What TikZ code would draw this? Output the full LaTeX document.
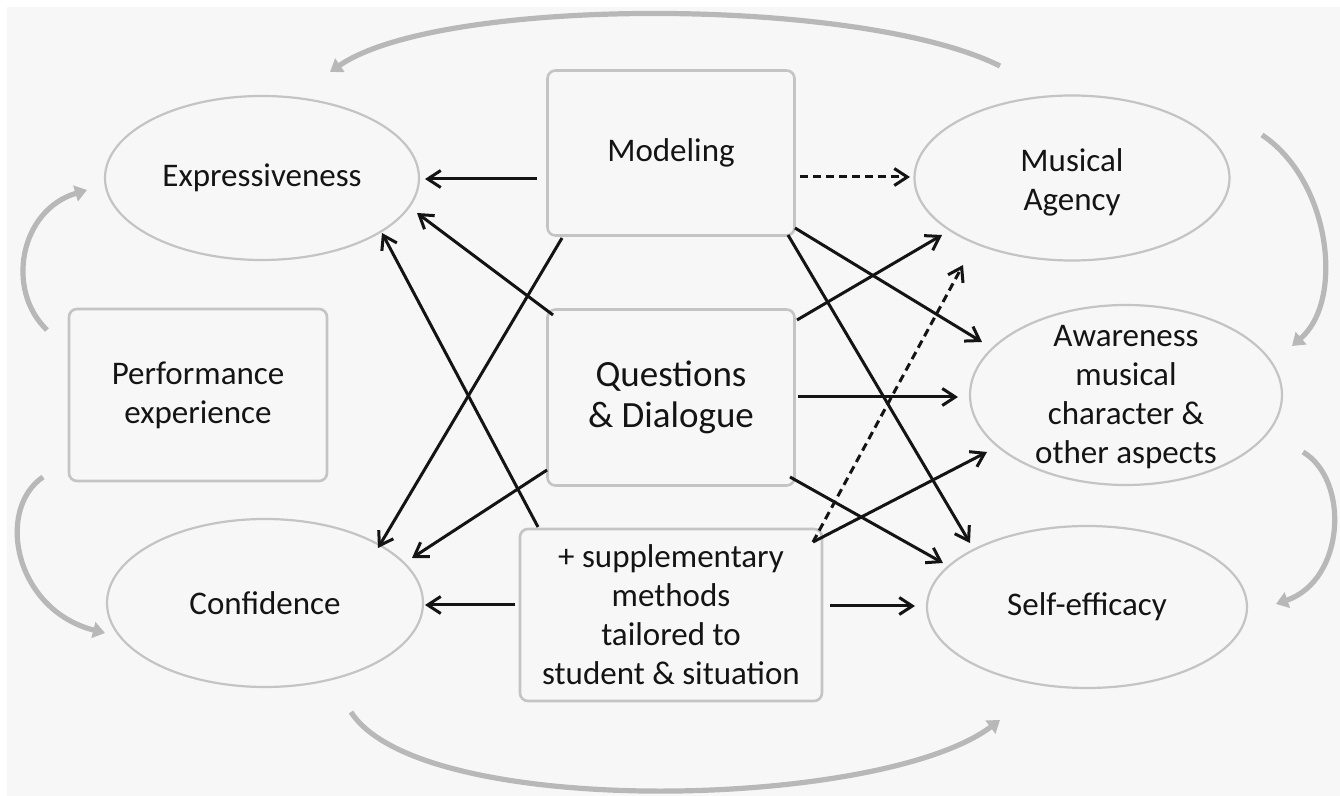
\documentclass[tikz,border=0pt]{standalone}
\usepackage{fontspec}
\setmainfont{Carlito}
\usetikzlibrary{calc,arrows.meta,shapes.geometric}
\definecolor{bg}{HTML}{F7F7F7}
\definecolor{edge}{HTML}{C4C4C4}
\definecolor{cycc}{HTML}{B8B8B8}
\begin{document}
\begin{tikzpicture}[x=0.5pt,y=-0.5pt,
  txt/.style={font=\fontsize{16.5}{19.5}\selectfont, align=center, text=black!92},
  oval/.style={ellipse, draw=edge, line width=1.1pt, inner sep=0pt},
  box/.style={rectangle, rounded corners=4pt, draw=edge, line width=1.3pt, inner sep=0pt, txt},
  arr/.style={-{Straight Barb[length=6.5pt,width=8.5pt]}, line width=1.5pt, black!92},
  darr/.style={arr, dash pattern=on 4pt off 2.5pt},
  cyc/.style={draw=cycc, line width=2.6pt, -{Triangle[length=6pt,width=8pt]}}
]
\useasboundingbox (0,0) rectangle (1340,796);
\fill[white] (0,0) rectangle (1340,796);
\fill[bg] (7,7) rectangle (1341,797);

% nodes
\node[oval, minimum width=157pt, minimum height=82pt] (expr) at (262,178) {};
\node[txt] (exprtxt) at (expr) {Expressiveness};
\node[box, minimum width=129pt, minimum height=86pt] (perf) at (198,395) {Performance\\experience};
\node[oval, minimum width=158pt, minimum height=84pt] (conf) at (265,603) {};
\node[txt] (conftxt) at (conf) {Confidence};
\node[box, minimum width=123.5pt, minimum height=82.5pt] (mod) at (671,153) {Modeling};
\node[box, minimum width=123.5pt, minimum height=88pt, font=\fontsize{18.5}{20.5}\selectfont] (qd) at (671,397.5) {Questions\\\& Dialogue};
\node[box, minimum width=151pt, minimum height=86pt] (supp) at (671,615) {+ supplementary\\methods\\tailored to\\student \& situation};
\node[oval, minimum width=157.5pt, minimum height=82.5pt] (agency) at (1072,178) {};
\node[txt] (agencytxt) at (1072,182) {Musical\\Agency};
\node[oval, minimum width=156pt, minimum height=90pt] (aware) at (1126,395) {};
\node[txt] (awaretxt) at (1126,397) {Awareness\\musical\\character \&\\other aspects};
\node[oval, minimum width=160pt, minimum height=81pt] (self) at (1087,607) {};
\node[txt] (selftxt) at (self) {Self-efficacy};

% cycle arrows
\draw[cyc] ($(agency)+(-72,-112)$) .. controls (860,-4) and (440,-4) .. ($(expr)+(68,-106)$);
\draw[cyc] ($(perf)+(-151,-65)$) .. controls (5,290) and (20,210) .. ($(expr)+(-175,12)$);
\draw[cyc] ($(perf)+(-155,82)$) .. controls (-5,510) and (15,610) .. ($(conf)+(-160,30)$);
\draw[cyc] ($(agency)+(190,-43)$) .. controls (1330,180) and (1345,300) .. ($(aware)+(166,-49)$);
\draw[cyc] ($(aware)+(177,57)$) .. controls (1350,480) and (1345,580) .. ($(self)+(189,-3)$);
\draw[cyc] ($(conf)+(86,109)$) .. controls (420,820) and (880,810) .. ($(self)+(-87,113)$);

% left connectors
\draw[arr] ($(mod)+(-134,26)$) -- ($(expr)+(163,1)$);
\draw[arr] ($(qd)+(-118,-82.5)$) -- ($(expr)+(155,35)$);
\draw[arr] ($(supp)+(-133,-88)$) -- ($(expr)+(120,55)$);
\draw[arr] ($(mod)+(-109,85)$) -- ($(conf)+(113,-55)$);
\draw[arr] ($(qd)+(-124,72.5)$) -- ($(conf)+(147,-45)$);
\draw[arr] ($(supp)+(-156,-10)$) -- ($(conf)+(160,2)$);

% right connectors
\draw[darr] ($(mod)+(129,24)$) -- ($(agency)+(-162,-1)$);
\draw[arr] ($(mod)+(124,75)$) -- ($(aware)+(-144,-53)$);
\draw[arr] ($(mod)+(117,82)$) -- ($(self)+(-117,-64)$);
\draw[arr] ($(qd)+(126,-77.5)$) -- ($(agency)+(-130,57)$);
\draw[arr] ($(qd)+(127,-0.5)$) -- ($(aware)+(-168,2)$);
\draw[darr] ($(supp)+(142,-73)$) -- ($(agency)+(-109,87)$);
\draw[arr] ($(supp)+(142,-73)$) -- ($(aware)+(-139,57)$);
\draw[arr] ($(qd)+(119,79.5)$) -- ($(self)+(-144,-44)$);
\draw[arr] ($(supp)+(159,-9)$) -- ($(self)+(-172,-1)$);
\end{tikzpicture}
\end{document}
